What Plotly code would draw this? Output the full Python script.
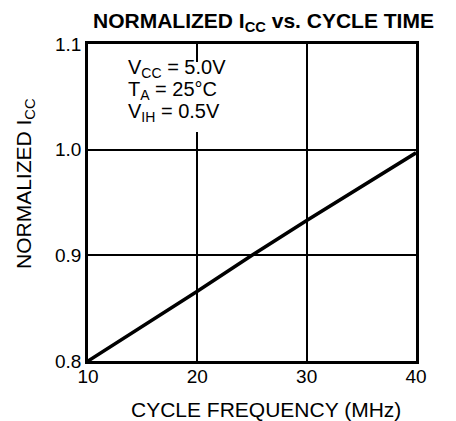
import plotly.graph_objects as go

freq_mhz = [10, 20, 25, 30, 40]
norm_icc = [0.800, 0.866, 0.900, 0.933, 0.997]
x_ticks = [10, 20, 30, 40]
y_ticks = [0.8, 0.9, 1.0, 1.1]
y_tick_labels = ["0.8", "0.9", "1.0", "1.1"]
cond_lines = ["V<sub>CC</sub> = 5.0V", "T<sub>A</sub> = 25°C", "V<sub>IH</sub> = 0.5V"]

FONT = "Liberation Sans, Arial, sans-serif"

# page body has an 8px margin; plot area should sit at x 88..416, y 44..361
PL, PR, PT, PB = 88, 416, 44, 361
def px(x):
    return (x - PL) / (PR - PL)
def py(y):
    return (PB - y) / (PB - PT)

fig = go.Figure()
fig.add_trace(go.Scatter(x=freq_mhz, y=norm_icc, mode="lines",
                         line=dict(color="black", width=3.5), showlegend=False))

annots = [
    dict(text="<b>NORMALIZED I<sub>CC</sub> vs. CYCLE TIME</b>", xref="paper", yref="paper",
         x=px(263), y=py(22), xanchor="center", yanchor="middle",
         showarrow=False, font=dict(size=21, family=FONT)),
    dict(text="CYCLE FREQUENCY (MHz)", xref="paper", yref="paper",
         x=px(266), y=py(409), xanchor="center", yanchor="middle",
         showarrow=False, font=dict(size=21, family=FONT)),
    dict(text="NORMALIZED I<sub>CC</sub>", xref="paper", yref="paper", textangle=-90,
         x=px(25), y=py(184), xanchor="center", yanchor="middle",
         showarrow=False, font=dict(size=21, family=FONT)),
]
for i, t in enumerate(cond_lines):
    annots.append(dict(text=t, xref="paper", yref="paper", x=px(126), y=py(69 + 21.5 * i),
                       xanchor="left", yanchor="middle", align="left", showarrow=False,
                       font=dict(size=20, family=FONT)))

fig.update_layout(
    width=448, height=413,
    margin=dict(l=PL - 8, r=40, t=PT - 8, b=413 - (PB - 8)),
    paper_bgcolor="white", plot_bgcolor="white",
    font=dict(family=FONT, color="black"),
    xaxis=dict(range=[10, 40], tickvals=x_ticks, showgrid=True, gridcolor="black",
               gridwidth=2, showline=True, linecolor="black", linewidth=2.5, mirror=True,
               zeroline=False, ticks="", tickfont=dict(size=19, family=FONT),
               ticklabelstandoff=-4),
    yaxis=dict(range=[0.8, 1.1], tickvals=y_ticks, ticktext=y_tick_labels, showgrid=True,
               gridcolor="black", gridwidth=2, showline=True, linecolor="black", linewidth=2.5,
               mirror=True, zeroline=False, ticks="", tickfont=dict(size=19, family=FONT)),
    shapes=[dict(type="rect", xref="x", yref="y", x0=19.3, x1=20.7, y0=1.0167, y1=1.083,
                 fillcolor="white", line=dict(width=0), layer="above")],
    annotations=annots,
)

fig.write_html("out.html")
